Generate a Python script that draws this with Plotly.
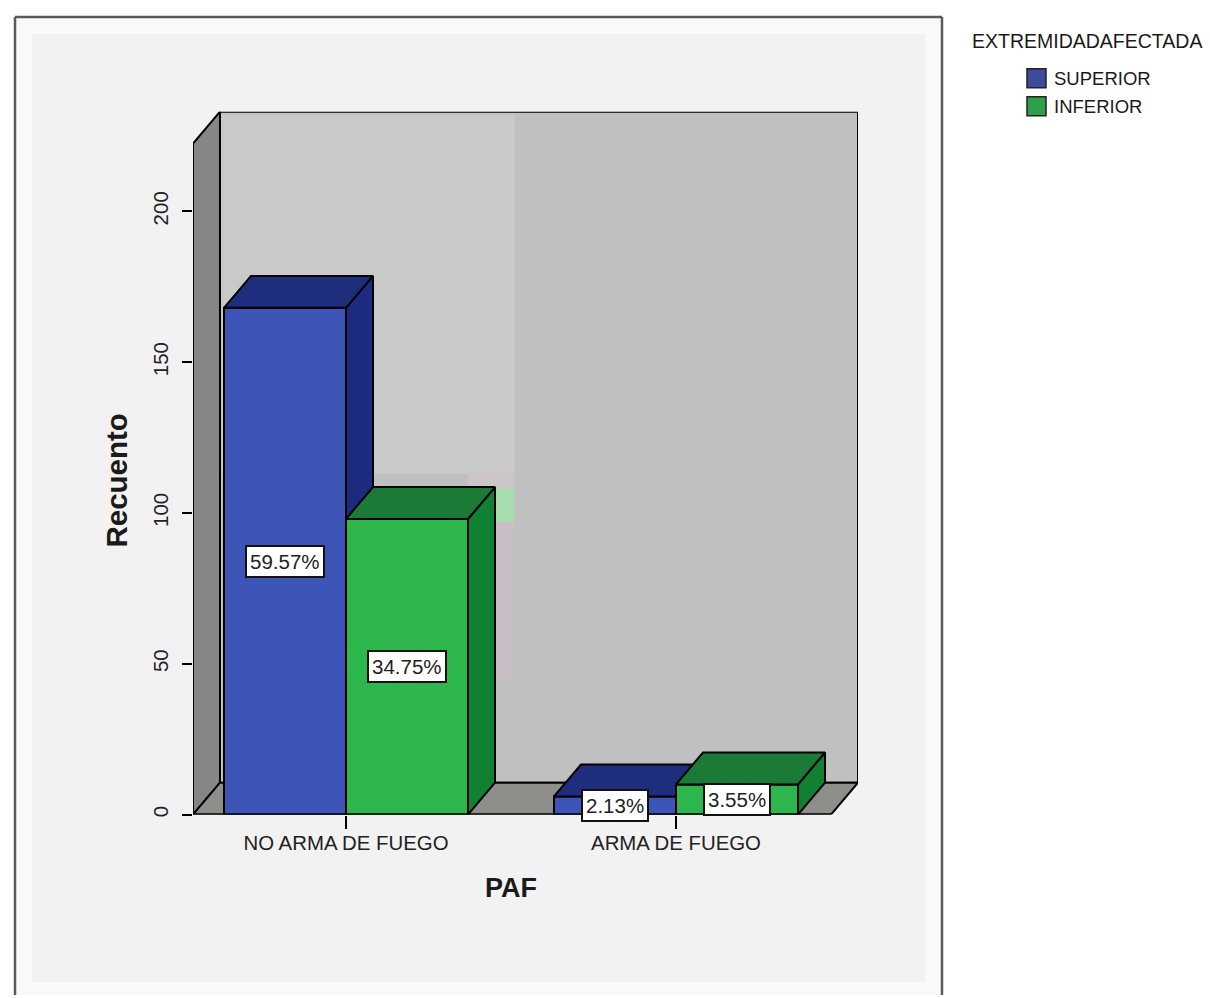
import plotly.graph_objects as go

# Recuento por PAF y extremidad afectada
categories = ["NO ARMA DE FUEGO", "ARMA DE FUEGO"]
superior = [168, 6]
inferior = [98, 10]
series_names = ["SUPERIOR", "INFERIOR"]
y_ticks = [0, 50, 100, 150, 200]

W, H = 1210, 998
PLOT_L, PLOT_R, PLOT_T, PLOT_B = 193, 858, 112, 817
PX_PER_CAT, PX_PER_UNIT, ZERO_CAT_PX = 330, 3.025, 346
FONT = "Liberation Sans"

BLUE = dict(front="#3d55b6", top="#1f2e7c", side="#1c2b80")
GREEN = dict(front="#2db64b", top="#1c7a37", side="#128032")

total = sum(superior) + sum(inferior)
xpos = list(range(len(categories)))
bar_w = 122 / PX_PER_CAT
dx = 27 / PX_PER_CAT            # depth of the 3D box along x
dy = 32 / PX_PER_UNIT           # depth of the 3D box along y
x0 = (PLOT_L - ZERO_CAT_PX) / PX_PER_CAT
x1 = (PLOT_R - ZERO_CAT_PX) / PX_PER_CAT
y1 = (PLOT_B - PLOT_T) / PX_PER_UNIT
wall_top = y1 - dy


def px_x(p):
    return p / W


def px_y(p):
    return 1 - p / H


def polygon(xs, ys, fill, axes=("x", "y"), line="black", width=2):
    return go.Scatter(
        x=xs + xs[:1], y=ys + ys[:1], mode="lines", fill="toself", fillcolor=fill,
        line=dict(color=line, width=width), xaxis=axes[0], yaxis=axes[1],
        hoverinfo="skip", showlegend=False, cliponaxis=False,
    )


def wall_patch(xa, xb, ya, yb, fill):
    # Flat tonal patch on the back wall
    return polygon([xa, xb, xb, xa], [ya, ya, yb, yb], fill, line="rgba(0,0,0,0)", width=0)


fig = go.Figure()

# Box walls and floor on the base axes
fig.add_trace(polygon([x0 + dx, x1, x1, x0 + dx], [dy, dy, y1, y1], "#c0c0c0"))
fig.add_trace(wall_patch(x0 + dx + 0.005, 0.51, 113, y1 - 1, "#c9c9c7"))
fig.add_trace(wall_patch(0.37, 0.51, 108, 113, "#ccc6c9"))
fig.add_trace(wall_patch(0.4515, 0.51, 97, 108, "#a6dcae"))
fig.add_trace(wall_patch(0.4515, 0.51, 45, 97, "#c8bec6"))
fig.add_trace(polygon([x0, x0 + dx, x0 + dx, x0], [0, dy, y1, wall_top], "#868686"))
fig.add_trace(polygon([x0, x1 - dx, x1, x0 + dx], [0, 0, dy, dy], "#8e8e8a"))


def add_series(values, offset, colours, name, axes):
    # One overlaid axis pair per series, so the later series paints over the earlier one
    fig.add_trace(go.Bar(
        x=xpos, y=values, width=bar_w, offset=offset, name=name,
        marker=dict(color=colours["front"], line=dict(color="black", width=2)),
        xaxis=axes[0], yaxis=axes[1], showlegend=False, cliponaxis=False,
    ))
    for pos, v in zip(xpos, values):
        left, right = pos + offset, pos + offset + bar_w
        fig.add_trace(polygon([right, right + dx, right + dx, right], [0, dy, v + dy, v], colours["side"], axes))
        fig.add_trace(polygon([left, left + dx, right + dx, right], [v, v + dy, v + dy, v], colours["top"], axes))


add_series(superior, -bar_w, BLUE, series_names[0], ("x2", "y2"))
add_series(inferior, 0, GREEN, series_names[1], ("x3", "y3"))

# Front edge of the floor
fig.add_trace(go.Scatter(
    x=[x0, x1 - dx], y=[0, 0], mode="lines", line=dict(color="black", width=2),
    xaxis="x3", yaxis="y3", hoverinfo="skip", showlegend=False, cliponaxis=False,
))

annotations = []

# Percentage labels centred on each bar's front face
for values, offset in ((superior, -bar_w / 2), (inferior, bar_w / 2)):
    for pos, v in zip(xpos, values):
        annotations.append(dict(
            x=pos + offset, y=v / 2, xref="x3", yref="y3", text=f"{v / total * 100:.2f}%",
            xanchor="center", yanchor="middle",
            showarrow=False, font=dict(family=FONT, size=20.5, color="#222222"),
            bgcolor="white", bordercolor="#111111", borderwidth=2, borderpad=3,
        ))


def paper_text(x, y, text, size, **kwargs):
    opts = dict(xanchor="center", yanchor="middle")
    opts.update(kwargs)
    return dict(x=px_x(x), y=px_y(y), xref="paper", yref="paper", text=text, showarrow=False,
                font=dict(family=FONT, size=size, color="#1a1a1a"), **opts)


# Axis titles
annotations.append(paper_text(511, 891, "<b>PAF</b>", 27))
annotations.append(paper_text(117, 482, "<b>Recuento</b>", 29.5, textangle=-90))

# Legend
annotations.append(paper_text(1087, 41, "EXTREMIDADAFECTADA", 19.5))


def paper_line(xa, ya, xb, yb):
    return dict(type="line", xref="paper", yref="paper", x0=px_x(xa), x1=px_x(xb), y0=px_y(ya), y1=px_y(yb),
                line=dict(color="#5a5a5a", width=2.5), layer="below")


shapes = [
    dict(type="rect", xref="paper", yref="paper", x0=px_x(15), x1=px_x(942), y0=px_y(998), y1=px_y(17),
         fillcolor="#f9f9f9", line=dict(width=0), layer="below"),
    dict(type="rect", xref="paper", yref="paper", x0=px_x(32), x1=px_x(925), y0=px_y(985), y1=px_y(34),
         fillcolor="#f2f2f2", line=dict(width=0), layer="below"),
    paper_line(15, 17, 942, 17),
    paper_line(15, 17, 15, 998),
    paper_line(942, 17, 942, 998),
]
for name, colour, top in zip(series_names, ("#3f4a9c", "#2fa04a"), (69, 97)):
    shapes.append(dict(type="rect", xref="paper", yref="paper", x0=px_x(1027), x1=px_x(1046),
                       y0=px_y(top + 19), y1=px_y(top), fillcolor=colour,
                       line=dict(color="#222222", width=1.5)))
    annotations.append(paper_text(1052, top + 10, name, 18.5, xanchor="left"))

domain_x = [px_x(PLOT_L), px_x(PLOT_R)]
domain_y = [px_y(PLOT_B), px_y(PLOT_T)]
hidden = dict(visible=False, domain=domain_x, range=[x0, x1], fixedrange=True)
hidden_y = dict(visible=False, domain=domain_y, range=[0, y1], fixedrange=True)

fig.update_layout(
    width=W, height=H, margin=dict(l=0, r=0, t=0, b=0, pad=0), autosize=False,
    paper_bgcolor="white", plot_bgcolor="rgba(0,0,0,0)", showlegend=False, barmode="overlay",
    font=dict(family=FONT, color="#222222"),
    xaxis=dict(domain=domain_x, range=[x0, x1], tickmode="array", tickvals=xpos, ticktext=categories,
               ticks="outside", ticklen=13, tickwidth=1.5, tickcolor="black", showgrid=False,
               zeroline=False, showline=False, tickfont=dict(size=20.4, color="#222222"), ticklabelstandoff=-3),
    yaxis=dict(domain=domain_y, range=[0, y1], tickmode="array", tickvals=y_ticks,
               ticks="outside", ticklen=10, tickwidth=1.5, tickcolor="black", showgrid=False,
               zeroline=False, showline=False, tickangle=-90, tickfont=dict(size=20.5, color="#222222"),
               ticklabelstandoff=6),
    xaxis2={**hidden, "overlaying": "x"}, yaxis2={**hidden_y, "overlaying": "y"},
    xaxis3={**hidden, "overlaying": "x"}, yaxis3={**hidden_y, "overlaying": "y"},
    annotations=annotations, shapes=shapes,
)

fig.write_html("out.html", config={"displayModeBar": False})
